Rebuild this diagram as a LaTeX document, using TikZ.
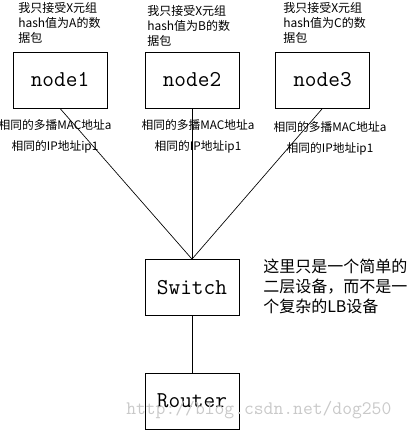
\documentclass[tikz,border=0pt]{standalone}
\usepackage{fontspec}
\setmainfont{Noto Sans CJK SC}
\usepackage{xcolor}
\usepackage{tikz}
\usetikzlibrary{positioning}
\definecolor{wmark}{HTML}{C9C9C9}
\tikzset{
  box/.style={draw,line width=0.6pt,minimum width=70.5pt,minimum height=42pt,
    inner sep=0pt,font=\fontsize{17}{17}\ttfamily},
  note/.style={anchor=north west,align=left,inner sep=0pt,
    font=\fontsize{9}{11.25}\selectfont},
  addr/.style={align=center,inner sep=0pt,font=\fontsize{8.8}{15.75}\selectfont},
  link/.style={line width=0.5pt}
}

\begin{document}
\begin{tikzpicture}[x=0.75pt,y=-0.75pt]
  \useasboundingbox (0,0) rectangle (408,430);

  % hosts
  \node[box] (node1) at (60,80) {node1};
  \node[box] (node2) at (192,80) {node2};
  \node[box] (node3) at (322.5,80) {node3};

  % what each host accepts
  \node[note] (want1) at (18,2) {我只接受X元组\\hash值为A的数\\据包};
  \node[note] (want2) at (147,5) {我只接受X元组\\hash值为B的数\\据包};
  \node[note] (want3) at (283,2) {我只接受X元组\\hash值为C的数\\据包};

  % switch and router
  \node[box] (switch) at (192,287.5) {Switch};
  \node[box] (router) at (192,401) {Router};

  \draw[link] (node1.south) -- (switch.north);
  \draw[link] (node2.south) -- (switch.north);
  \draw[link] (node3.south) -- (switch.north);
  \draw[link] (switch) -- (router);

  % shared addresses
  \node[addr] (addr1) at (55,136) {相同的多播MAC地址a\\相同的IP地址ip1};
  \node[addr] (addr2) at (198,136) {相同的多播MAC地址a\\相同的IP地址ip1};
  \node[addr] (addr3) at (330,138) {相同的多播MAC地址a\\相同的IP地址ip1};

  \node[note,font=\fontsize{12}{15}\selectfont] (remark) at (263,259)
    {这里只是一个简单的\\二层设备，而不是一\\个复杂的LB设备};

  % watermark
  \node[text=wmark,anchor=west,inner sep=0pt,font=\fontsize{14.3}{14}\ttfamily]
    (mark) at (126,410) {http://blog.csdn.net/dog250};

\end{tikzpicture}
\end{document}
